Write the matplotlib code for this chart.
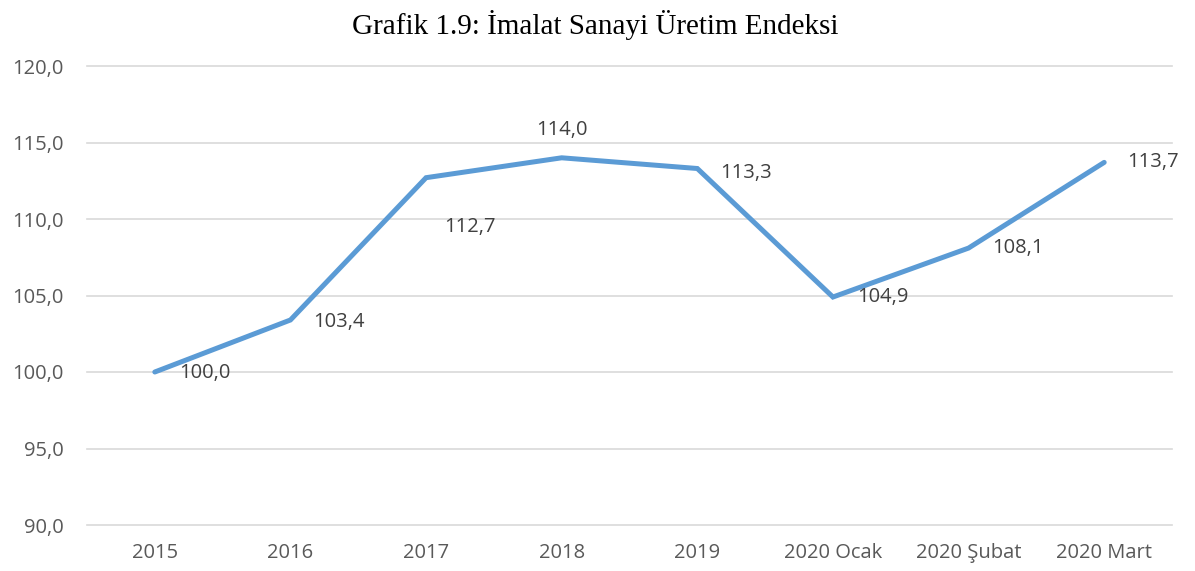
import matplotlib.pyplot as plt

categories = ['2015', '2016', '2017', '2018', '2019', '2020 Ocak', '2020 Şubat', '2020 Mart']
values = [100.0, 103.4, 112.7, 114.0, 113.3, 104.9, 108.1, 113.7]
yticks = [90, 95, 100, 105, 110, 115, 120]

# label offsets in pixels (dx, dy, ha)
label_pos = [(24, -1, 'left'), (23, -2, 'left'), (18, -49, 'left'), (0, 28, 'center'),
             (23, -4, 'left'), (24, 0, 'left'), (24, 0, 'left'), (23, 0, 'left')]

plt.rcParams['font.family'] = ['Open Sans', 'DejaVu Sans']

fig = plt.figure(figsize=(11.95, 5.71), dpi=100)
ax = fig.add_axes([87 / 1195, 1 - 525 / 571, (1172 - 87) / 1195, (525 - 66) / 571])

x = list(range(len(categories)))
ax.plot(x, values, color='#5B9BD5', lw=3.6, solid_joinstyle='miter', solid_capstyle='round', zorder=3)

for xi, v, (dx, dy, ha) in zip(x, values, label_pos):
    ax.annotate(f'{v:.1f}'.replace('.', ','), (xi, v), xytext=(dx, dy),
                textcoords='offset pixels', ha=ha, va='center',
                fontsize=14.5, color='#404040', zorder=4)

ax.set_xlim(-0.5, len(categories) - 0.5)
ax.set_ylim(90, 120)
ax.set_yticks(yticks)
ax.set_yticklabels([f'{t:.1f}'.replace('.', ',') for t in yticks])
ax.set_xticks(x)
ax.set_xticklabels(categories)
ax.tick_params(length=0, labelsize=14.5, labelcolor='#595959')
ax.tick_params(axis='y', pad=17)
ax.tick_params(axis='x', pad=13)
ax.grid(axis='y', color='#D9D9D9', lw=1.2)
for gl in ax.get_ygridlines():
    gl.set_clip_on(False)
ax.set_axisbelow(True)
for s in ax.spines.values():
    s.set_visible(False)

fig.text(595 / 1195, 1 - 25 / 571, 'Grafik 1.9: İmalat Sanayi Üretim Endeksi',
         ha='center', va='center', fontsize=21, family='Liberation Serif', color='black')

fig.savefig('out.png', dpi=100)
